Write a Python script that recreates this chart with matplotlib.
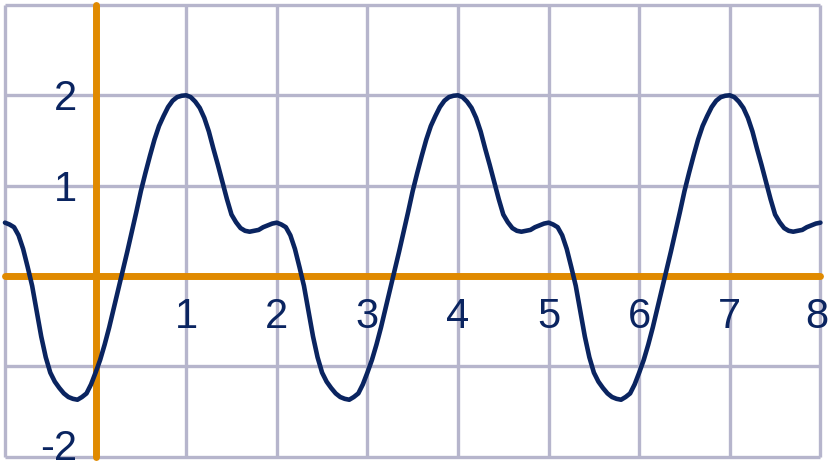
import matplotlib
matplotlib.use("Agg")
import matplotlib.pyplot as plt
import numpy as np

# curve samples, x = -1.00 .. 8.00 in steps of 0.05
curve_y = [
    0.59, 0.57, 0.54, 0.45, 0.30, 0.10, -0.11, -0.39, -0.67, -0.90,
    -1.07, -1.17, -1.24, -1.30, -1.34, -1.36, -1.37, -1.34, -1.30, -1.20,
    -1.07, -0.93, -0.76, -0.57, -0.36, -0.15, 0.06, 0.27, 0.49, 0.71,
    0.94, 1.14, 1.33, 1.51, 1.66, 1.77, 1.87, 1.94, 1.98, 1.995,
    2.00, 1.98, 1.93, 1.86, 1.75, 1.60, 1.41, 1.23, 1.04, 0.85,
    0.68, 0.595, 0.53, 0.50, 0.49, 0.50, 0.51, 0.54, 0.56, 0.58,
    0.59, 0.57, 0.54, 0.45, 0.30, 0.10, -0.11, -0.39, -0.67, -0.90,
    -1.07, -1.17, -1.24, -1.30, -1.34, -1.36, -1.37, -1.34, -1.30, -1.20,
    -1.07, -0.93, -0.76, -0.57, -0.36, -0.15, 0.06, 0.27, 0.49, 0.71,
    0.94, 1.14, 1.33, 1.51, 1.66, 1.77, 1.87, 1.94, 1.98, 1.995,
    2.00, 1.98, 1.93, 1.86, 1.75, 1.60, 1.41, 1.23, 1.04, 0.85,
    0.68, 0.595, 0.53, 0.50, 0.49, 0.50, 0.51, 0.54, 0.56, 0.58,
    0.59, 0.57, 0.54, 0.45, 0.30, 0.10, -0.11, -0.39, -0.67, -0.90,
    -1.07, -1.17, -1.24, -1.30, -1.34, -1.36, -1.37, -1.34, -1.30, -1.20,
    -1.07, -0.93, -0.76, -0.57, -0.36, -0.15, 0.06, 0.27, 0.49, 0.71,
    0.94, 1.14, 1.33, 1.51, 1.66, 1.77, 1.87, 1.94, 1.98, 1.995,
    2.00, 1.98, 1.93, 1.86, 1.75, 1.60, 1.41, 1.23, 1.04, 0.85,
    0.68, 0.595, 0.53, 0.50, 0.49, 0.50, 0.51, 0.54, 0.56, 0.58,
    0.59,
]
curve_x = np.linspace(-1.0, 8.0, len(curve_y))

grid_x = list(range(-1, 9))
grid_y = list(range(-2, 4))
x_tick_values = [1, 2, 3, 4, 5, 6, 7, 8]
y_tick_values = [2, 1, -2]

GRID = "#b6b5cc"
AXIS = "#e08a00"
NAVY = "#0a2460"

fig = plt.figure(figsize=(8.3, 4.71), dpi=100)
ax = fig.add_axes([0, 0, 1, 1])
ax.set_xlim(-1.055, 8.106)
ax.set_ylim(-2.159, 3.055)
ax.axis("off")

ax.vlines(grid_x, grid_y[0], grid_y[-1], color=GRID, linewidth=2.4, zorder=1)
ax.hlines(grid_y, grid_x[0], grid_x[-1], color=GRID, linewidth=2.4, zorder=1)

ax.plot([grid_x[0], grid_x[-1]], [0, 0], color=AXIS, linewidth=5.0,
        solid_capstyle="round", zorder=2)
ax.plot([0, 0], [grid_y[0], grid_y[-1]], color=AXIS, linewidth=5.0,
        solid_capstyle="round", zorder=2)

ax.plot(curve_x, curve_y, color=NAVY, linewidth=3.3,
        solid_capstyle="round", solid_joinstyle="round", zorder=3)

font = ["Liberation Sans", "DejaVu Sans"]
for v in x_tick_values:
    # keep the last label inside the frame
    ax.text(min(v, 7.96), -0.575, str(v), ha="center", va="baseline",
            fontsize=30, color=NAVY, family=font, zorder=4)
for v in y_tick_values:
    # the bottom label sits a little higher so it stays inside the frame
    ax.text(-0.205, max(v - 0.165, -2.04), str(v), ha="right", va="baseline",
            fontsize=30, color=NAVY, family=font, zorder=4)

fig.savefig("out.png", dpi=100)
